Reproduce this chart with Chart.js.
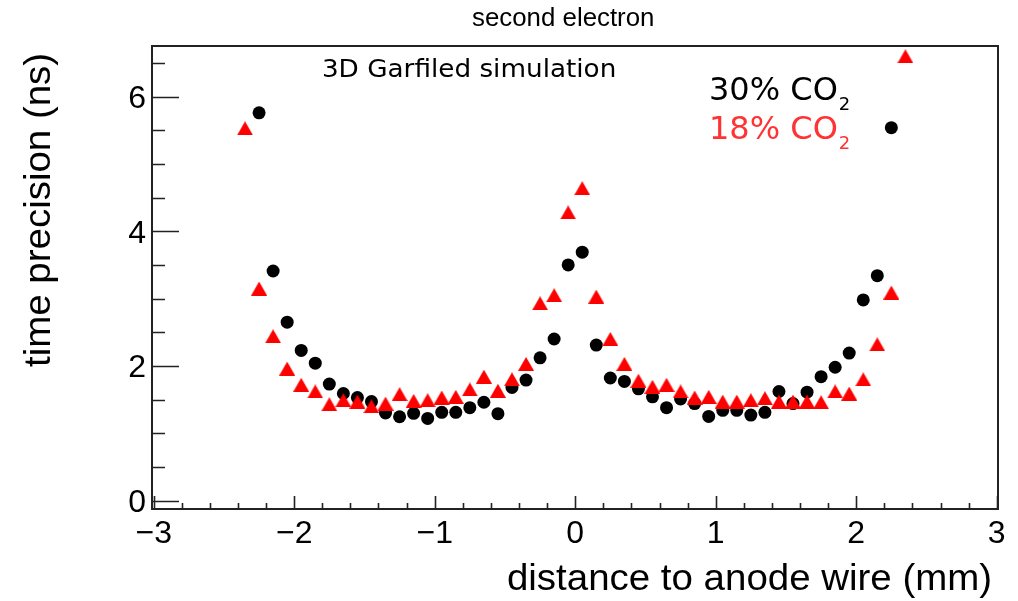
<!DOCTYPE html>
<html><head><meta charset="utf-8">
<script src="https://cdn.jsdelivr.net/npm/chart.js@4"></script>
<style>html,body{margin:0;padding:0;background:#fff;}#wrap{width:1018px;height:601px;}</style>
</head><body><div id="wrap"><canvas id="c" width="1018" height="601"></canvas></div>
<script>
// ---- data ----
const xBlack = [-2.25,-2.15,-2.05,-1.95,-1.85,-1.75,-1.65,-1.55,-1.45,-1.35,-1.25,-1.15,-1.05,-0.95,-0.85,-0.75,-0.65,-0.55,-0.45,-0.35,-0.25,-0.15,-0.05,
                 0.05,0.15,0.25,0.35,0.45,0.55,0.65,0.75,0.85,0.95,1.05,1.15,1.25,1.35,1.45,1.55,1.65,1.75,1.85,1.95,2.05,2.15,2.25];
const yBlack = [5.76,3.41,2.65,2.23,2.04,1.73,1.59,1.53,1.47,1.30,1.245,1.295,1.22,1.31,1.31,1.38,1.46,1.29,1.68,1.79,2.12,2.40,3.50,
                3.69,2.31,1.82,1.77,1.66,1.54,1.38,1.51,1.44,1.25,1.34,1.34,1.27,1.31,1.62,1.44,1.61,1.84,1.98,2.19,2.98,3.34,5.54];
const xRed = [-2.35,-2.25,-2.15,-2.05,-1.95,-1.85,-1.75,-1.65,-1.55,-1.45,-1.35,-1.25,-1.15,-1.05,-0.95,-0.85,-0.75,-0.65,-0.55,-0.45,-0.35,-0.25,-0.15,-0.05,
               0.05,0.15,0.25,0.35,0.45,0.55,0.65,0.75,0.85,0.95,1.05,1.15,1.25,1.35,1.45,1.55,1.65,1.75,1.85,1.95,2.05,2.15,2.25,2.35];
const yRed = [5.53,3.15,2.44,1.96,1.72,1.62,1.43,1.49,1.47,1.40,1.44,1.58,1.48,1.49,1.53,1.54,1.65,1.84,1.63,1.80,2.03,2.93,3.05,4.28,
              4.64,3.03,2.40,2.03,1.78,1.69,1.72,1.62,1.53,1.54,1.47,1.47,1.49,1.52,1.47,1.47,1.47,1.46,1.62,1.59,1.80,2.32,3.09,6.60];
const xTickValues = [-3,-2,-1,0,1,2,3];
const xTickLabels = ['\u22123','\u22122','\u22121','0','1','2','3'];
const yTickValues = [0,2,4,6];
const yTickLabels = ['0','2','4','6'];
const titleText = 'second electron';
const xTitleText = 'distance to anode wire (mm)';
const yTitleText = 'time precision (ns)';
const noteText = '3D Garfiled simulation';
const seriesNames = ['30% CO', '18% CO'];
const seriesSub = '2';

// ---- marker ----
function makeTriangle(w, h, color) {
  const c = document.createElement('canvas');
  c.width = w; c.height = h;
  const g = c.getContext('2d');
  g.fillStyle = color;
  g.beginPath(); g.moveTo(w / 2, 0); g.lineTo(w, h); g.lineTo(0, h); g.closePath(); g.fill();
  return c;
}
const tri = makeTriangle(16, 14, '#ff0000');

function inkText(ctx, text, font, inkLeft, baseline, inkWidth) {
  ctx.save();
  ctx.font = font; ctx.textAlign = 'left'; ctx.textBaseline = 'alphabetic';
  const m = ctx.measureText(text);
  const w = m.actualBoundingBoxLeft + m.actualBoundingBoxRight;
  const s = inkWidth ? inkWidth / w : 1;
  ctx.translate(inkLeft + m.actualBoundingBoxLeft * s, baseline);
  ctx.scale(s, 1);
  ctx.fillText(text, 0, 0);
  ctx.restore();
  return s;
}

const rootPlugin = {
  id: 'rootFrame',
  afterDraw(chart) {
    const ctx = chart.ctx;
    const a = chart.chartArea;
    const xs = chart.scales.x, ys = chart.scales.y;
    ctx.save();
    ctx.strokeStyle = '#222';
    ctx.lineWidth = 2;
    ctx.strokeRect(a.left, a.top, a.right - a.left, a.bottom - a.top);
    ctx.lineWidth = 1.6;
    ctx.beginPath();
    // x ticks
    for (let k = -15; k <= 15; k++) {
      const v = k * 0.2;
      const px = Math.round(xs.getPixelForValue(v)) + 0.5;
      if (px < a.left || px > a.right) continue;
      const len = (k % 5 === 0) ? 13 : 6;
      ctx.moveTo(px, a.bottom); ctx.lineTo(px, a.bottom - len);
    }
    // y ticks
    for (let k = 0; k <= 13; k++) {
      const v = k * 0.5;
      const py = Math.round(ys.getPixelForValue(v)) + 0.5;
      if (py < a.top || py > a.bottom) continue;
      const len = (k % 4 === 0) ? 27 : 13;
      ctx.moveTo(a.left, py); ctx.lineTo(a.left + len, py);
    }
    ctx.stroke();

    ctx.fillStyle = '#000';
    // tick labels
    ctx.font = '32px "Liberation Sans", Arial, sans-serif';
    ctx.textAlign = 'center'; ctx.textBaseline = 'alphabetic';
    xTickValues.forEach((v, i) => ctx.fillText(xTickLabels[i], xs.getPixelForValue(v), 543));
    ctx.textAlign = 'right';
    yTickValues.forEach((v, i) => ctx.fillText(yTickLabels[i], 146, ys.getPixelForValue(v) + 11.5));

    // title
    inkText(ctx, titleText, '26px "Liberation Sans", Arial, sans-serif', 472, 26, 181);
    // x title
    const s = inkText(ctx, xTitleText, '36px "Liberation Sans", Arial, sans-serif', 508, 590, 482);
    // y title
    ctx.save();
    ctx.translate(50, 367);
    ctx.rotate(-Math.PI / 2);
    ctx.font = '36px "Liberation Sans", Arial, sans-serif';
    ctx.scale(s, 1);
    ctx.textAlign = 'left';
    ctx.fillText(yTitleText, 0, 0);
    ctx.restore();

    // note
    inkText(ctx, noteText, '24px "DejaVu Sans", sans-serif', 323, 77, 292);

    // legend texts
    const lf = '32px "DejaVu Sans", sans-serif';
    const sf = '18px "DejaVu Sans", sans-serif';
    ctx.textAlign = 'left';
    const rows = [{t: seriesNames[0], c: '#000', b: 100}, {t: seriesNames[1], c: '#ff3333', b: 139}];
    rows.forEach(r => {
      ctx.fillStyle = r.c;
      ctx.font = lf;
      ctx.fillText(r.t, 709, r.b);
      const w = ctx.measureText(r.t).width;
      ctx.font = sf;
      ctx.fillText(seriesSub, 709 + w + 1, r.b + 10);
    });
    ctx.restore();
  }
};

new Chart(document.getElementById('c').getContext('2d'), {
  type: 'scatter',
  data: {
    datasets: [
      { label: '18% CO2', data: xRed.map((x, i) => ({ x: x, y: yRed[i] })),
        pointStyle: tri, pointRadius: 8, backgroundColor: '#ff0000', borderWidth: 0 },
      { label: '30% CO2', data: xBlack.map((x, i) => ({ x: x, y: yBlack[i] })),
        pointStyle: 'circle', pointRadius: 6.5, backgroundColor: '#000', borderColor: '#000', borderWidth: 0 }
    ]
  },
  options: {
    responsive: false,
    animation: false,
    events: [],
    layout: { padding: { left: 152, right: 20, top: 46, bottom: 92 } },
    plugins: { legend: { display: false }, tooltip: { enabled: false }, title: { display: false } },
    scales: {
      x: { type: 'linear', min: -3.012, max: 3.009, display: false },
      y: { type: 'linear', min: -0.126, max: 6.753, display: false }
    }
  },
  plugins: [rootPlugin]
});
</script>
</body></html>
